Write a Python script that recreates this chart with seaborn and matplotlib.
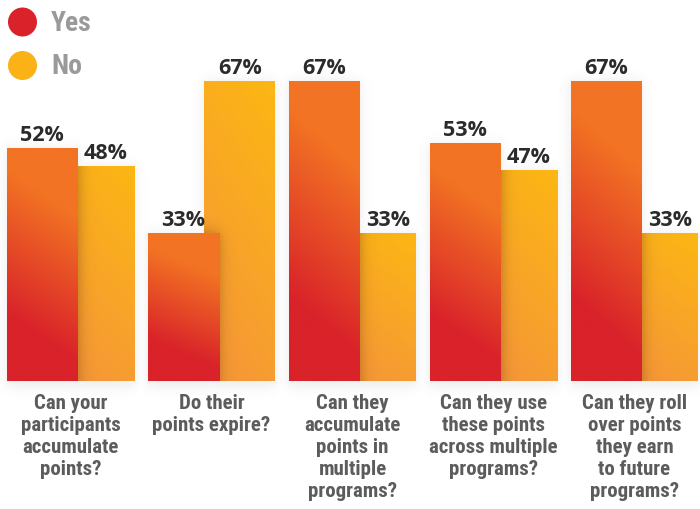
import numpy as np
import pandas as pd
import matplotlib
matplotlib.use("Agg")
import matplotlib.pyplot as plt
import matplotlib.transforms as mtransforms
from matplotlib import font_manager as fm
from matplotlib.patches import Circle
from matplotlib.colors import to_rgb
import seaborn as sns

# ---- data -------------------------------------------------------------
questions = [
    "Can your\nparticipants\naccumulate\npoints?",
    "Do their\npoints expire?",
    "Can they\naccumulate\npoints in\nmultiple\nprograms?",
    "Can they use\nthese points\nacross multiple\nprograms?",
    "Can they roll\nover points\nthey earn\nto future\nprograms?",
]
answers = ["Yes", "No"]
yes_pct = [52, 33, 67, 53, 67]
no_pct = [48, 67, 33, 47, 33]

# ---- layout (pixels) ----------------------------------------------------
W, H = 700, 509
PX_PER_CAT = 141.0
PX_PER_PCT = 4.485
BASE_PX = 381.0
X0_PX = 70.5
BAR_W = 71.0 / PX_PER_CAT

RED, ORANGE = np.array(to_rgb("#d9222a")), np.array(to_rgb("#f27323"))
NO_LOW, NO_HIGH = np.array(to_rgb("#f5943b")), np.array(to_rgb("#fcb713"))

sns.set_theme(style="white")
plt.rcParams["font.family"] = ["DejaVu Sans"]

# pick a condensed sans for the question labels
entries = fm.fontManager.ttflist
names = {f.name for f in entries}
narrow_font = None
narrow_stretch = "normal"
narrow_scale = 1.0
for cand in ["Liberation Sans Narrow", "Arial Narrow", "Roboto Condensed",
             "Open Sans Condensed", "Noto Sans Condensed", "DejaVu Sans Condensed"]:
    if cand in names:
        narrow_font = cand
        break
if narrow_font is None:
    cond = [f for f in entries
            if str(f.stretch) in ("condensed", "semi-condensed", "extra-condensed")
            or "ondensed" in f.name or "Narrow" in f.name]
    if cond:
        narrow_font = cond[0].name
        narrow_stretch = cond[0].stretch
if narrow_font is None:
    narrow_font = "Roboto"
    narrow_scale = 0.86

fig = plt.figure(figsize=(W / 100, H / 100), dpi=100)
ax = fig.add_axes([0, 0, 1, 1])

df = pd.DataFrame({
    "question": questions * 2,
    "answer": ["Yes"] * len(questions) + ["No"] * len(questions),
    "pct": yes_pct + no_pct,
})
sns.barplot(data=df, x="question", y="pct", hue="answer", order=questions,
            hue_order=answers, palette=["#d9222a", "#fbb216"], saturation=1,
            width=0.8, legend=False, ax=ax)

xlim = (-X0_PX / PX_PER_CAT, (W - X0_PX) / PX_PER_CAT)
ylim = (-(H - BASE_PX) / PX_PER_PCT, BASE_PX / PX_PER_PCT)


def smooth_box(x, a, b, s):
    return 0.5 * (np.tanh((x - a) / s) - np.tanh((x - b) / s))


# collect bars per group
bars = {}
for p in list(ax.patches):
    cx = p.get_x() + p.get_width() / 2
    i = int(round(cx))
    kind = "Yes" if cx < i else "No"
    p.set_x(cx - BAR_W / 2)
    p.set_width(BAR_W)
    p.set_facecolor("none")
    p.set_edgecolor("none")
    bars[(i, kind)] = p

rows, cols = 300, 80
u = np.linspace(0, 1, cols)[None, :]
v = np.linspace(0, 1, rows)[:, None]

for (i, kind), p in bars.items():
    x0, x1 = p.get_x(), p.get_x() + p.get_width()
    h = p.get_height()
    if kind == "Yes":
        s = np.clip((v + 0.2 * u - 0.28) / 0.62, 0, 1)
        rgb = RED[None, None, :] * (1 - s[..., None]) + ORANGE[None, None, :] * s[..., None]
        z = 3
    else:
        s = np.clip(0.75 * v + 0.25 * u, 0, 1)
        rgb = NO_LOW[None, None, :] * (1 - s[..., None]) + NO_HIGH[None, None, :] * s[..., None]
        z = 2
    im = ax.imshow(rgb, extent=[x0, x1, 0, h], origin="lower", aspect="auto",
                   interpolation="bilinear", zorder=z)
    im.set_clip_path(p)

# shadow cast by each Yes bar onto the No bar behind it
for i in range(len(questions)):
    yb, nb = bars[(i, "Yes")], bars[(i, "No")]
    nx0, nx1, nh = nb.get_x(), nb.get_x() + nb.get_width(), nb.get_height()
    yx0, yx1, yh = yb.get_x(), yb.get_x() + yb.get_width(), yb.get_height()
    xs = np.linspace(nx0, nx1, 120)[None, :]
    ys = np.linspace(0, nh, 400)[:, None]
    a = smooth_box(xs * PX_PER_CAT, yx0 * PX_PER_CAT, yx1 * PX_PER_CAT, 8.0) * \
        smooth_box(ys * PX_PER_PCT, -50, yh * PX_PER_PCT, 8.0)
    rgba = np.zeros(a.shape + (4,))
    rgba[..., 0:3] = (0.35, 0.18, 0.05)
    rgba[..., 3] = 0.45 * a
    im = ax.imshow(rgba, extent=[nx0, nx1, 0, nh], origin="lower", aspect="auto",
                   interpolation="bilinear", zorder=2.5)
    im.set_clip_path(nb)

# soft grey glow around all bars on the white background
gx = np.linspace(xlim[0], xlim[1], W)[None, :] * PX_PER_CAT
gy = np.linspace(ylim[0], ylim[1], H)[:, None] * PX_PER_PCT
glow = np.zeros((H, W))
for p in bars.values():
    bx0, bx1 = p.get_x() * PX_PER_CAT, (p.get_x() + p.get_width()) * PX_PER_CAT
    bh = p.get_height() * PX_PER_PCT
    g = smooth_box(gx, bx0 - 1, bx1 + 1, 7.0) * smooth_box(gy, -6, bh, 7.0)
    glow = np.maximum(glow, g)
grgba = np.zeros((H, W, 4))
grgba[..., 0:3] = 0.45
grgba[..., 3] = 0.13 * glow
ax.imshow(grgba, extent=[xlim[0], xlim[1], ylim[0], ylim[1]], origin="lower",
          aspect="auto", interpolation="bilinear", zorder=0.5)

# value labels
pct_font = dict(family=["Open Sans", "DejaVu Sans"], weight="bold",
                fontsize=15.5, color="#2b2b2b")
for i in range(len(questions)):
    yb, nb = bars[(i, "Yes")], bars[(i, "No")]
    yv, nv = yes_pct[i], no_pct[i]
    ycx = yb.get_x() + yb.get_width() / 2
    if nv < yv:
        ncx = (yb.get_x() + yb.get_width() + nb.get_x() + nb.get_width()) / 2
    else:
        ncx = nb.get_x() + nb.get_width() / 2
    ax.annotate(f"{yv}%", (ycx, yv), xytext=(0, 5), textcoords="offset points",
                ha="center", va="baseline", zorder=5, **pct_font)
    ax.annotate(f"{nv}%", (ncx, nv), xytext=(0, 5), textcoords="offset points",
                ha="center", va="baseline", zorder=5, **pct_font)

# question labels under each pair of bars
label_font = dict(family=[narrow_font, "DejaVu Sans"], fontstretch=narrow_stretch,
                  weight="bold", color="#5c5c5c")
label_top = ylim[1] - 394 / PX_PER_PCT
for i, q in enumerate(questions):
    ax.text(i, label_top, q, ha="center", va="top", fontsize=15 * narrow_scale,
            linespacing=1.2, zorder=5, **label_font)

# legend
ident = mtransforms.IdentityTransform()
for (cy, col, lab) in [(22, "#d9222a", "Yes"), (65.5, "#fbb216", "No")]:
    fig.add_artist(Circle((22.5, H - cy), 14.5, transform=ident,
                          facecolor=col, edgecolor="none"))
    fig.text(51 / W, 1 - (cy + 1.5) / H, lab, ha="left", va="center",
             fontsize=20 * narrow_scale, **{**label_font, "color": "#9a9a9a"})

ax.set_xlim(*xlim)
ax.set_ylim(*ylim)
ax.set_axis_off()
fig.savefig("out.png", dpi=100)
